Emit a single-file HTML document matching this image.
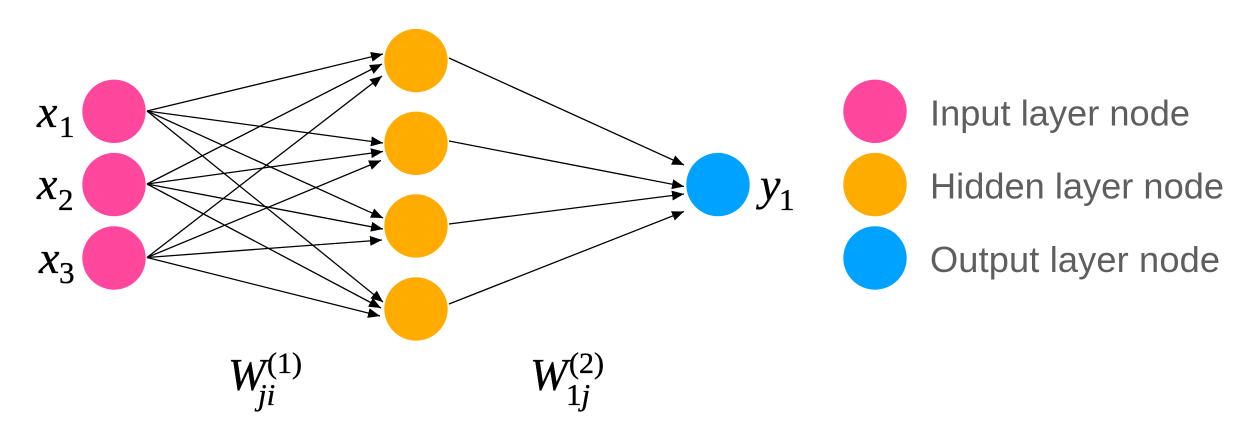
<!DOCTYPE html>
<html>
<head>
<meta charset="utf-8">
<style>
html,body{margin:0;padding:0;background:#fff;width:1238px;height:446px;overflow:hidden}
svg{display:block}
.m{font-family:"Liberation Serif",serif;fill:#000;stroke:#000;stroke-width:.35px}
.i{font-style:italic}
.l{font-family:"Liberation Sans",sans-serif;font-size:36.2px;fill:#5e5e5e}
</style>
</head>
<body>
<svg width="1238" height="446" viewBox="0 0 1238 446" xmlns="http://www.w3.org/2000/svg">
<defs>
<marker id="a" markerUnits="userSpaceOnUse" markerWidth="13" markerHeight="11" refX="12" refY="5" orient="auto">
<path d="M0,0 L12,5 L0,10 Z" fill="#000"/>
</marker>
</defs>
<g stroke="#000" stroke-width="1.3" fill="none">
<line x1="147" y1="111" x2="383" y2="54" marker-end="url(#a)"/>
<line x1="147" y1="184" x2="382" y2="64" marker-end="url(#a)"/>
<line x1="147" y1="257.5" x2="382" y2="76" marker-end="url(#a)"/>
<line x1="147" y1="111" x2="383" y2="143" marker-end="url(#a)"/>
<line x1="147" y1="184" x2="383" y2="151.5" marker-end="url(#a)"/>
<line x1="147" y1="257.5" x2="381" y2="160.5" marker-end="url(#a)"/>
<line x1="147" y1="111" x2="383" y2="218" marker-end="url(#a)"/>
<line x1="147" y1="184" x2="383" y2="229" marker-end="url(#a)"/>
<line x1="147" y1="257.5" x2="382" y2="240" marker-end="url(#a)"/>
<line x1="147" y1="111" x2="383" y2="302" marker-end="url(#a)"/>
<line x1="147" y1="184" x2="381" y2="308" marker-end="url(#a)"/>
<line x1="147" y1="257.5" x2="380" y2="316" marker-end="url(#a)"/>
<line x1="449" y1="58" x2="684" y2="165" marker-end="url(#a)"/>
<line x1="449" y1="141" x2="684" y2="186.5" marker-end="url(#a)"/>
<line x1="449" y1="224" x2="684" y2="194" marker-end="url(#a)"/>
<line x1="449" y1="304" x2="684" y2="211.5" marker-end="url(#a)"/>
</g>
<g fill="#ff479e">
<circle cx="114" cy="111.3" r="31.7"/>
<circle cx="114" cy="184.6" r="31.7"/>
<circle cx="114" cy="258" r="31.7"/>
<circle cx="875" cy="111.3" r="31.7"/>
</g>
<g fill="#ffab00">
<circle cx="416" cy="60.6" r="31.7"/>
<circle cx="416" cy="143.3" r="31.7"/>
<circle cx="416" cy="226" r="31.7"/>
<circle cx="416" cy="309" r="31.7"/>
<circle cx="875" cy="184.6" r="31.7"/>
</g>
<g fill="#00a2ff">
<circle cx="718" cy="184.6" r="31.7"/>
<circle cx="875" cy="258" r="31.7"/>
</g>
<text class="m i" x="37" y="127" font-size="46">x</text>
<text class="m" x="59" y="137" font-size="31">1</text>
<text class="m i" x="37" y="199" font-size="46">x</text>
<text class="m" x="58" y="210" font-size="31">2</text>
<text class="m i" x="39" y="273" font-size="46">x</text>
<text class="m" x="59" y="283" font-size="31">3</text>
<text class="m i" x="760" y="200" font-size="46">y</text>
<text class="m" x="779" y="210" font-size="31">1</text>
<text class="m i" x="228" y="390" font-size="45">W</text>
<text class="m" x="267" y="373" font-size="30">(1)</text>
<text class="m i" x="258" y="405" font-size="31">ji</text>
<text class="m i" x="530" y="390" font-size="45">W</text>
<text class="m" x="569" y="373" font-size="30">(2)</text>
<text class="m" x="566" y="405" font-size="31">1<tspan class="i">j</tspan></text>
<text class="l" x="930" y="125.5" textLength="260">Input layer node</text>
<text class="l" x="930" y="198.5" textLength="294">Hidden layer node</text>
<text class="l" x="930" y="272" textLength="290">Output layer node</text>
</svg>
</body>
</html>
